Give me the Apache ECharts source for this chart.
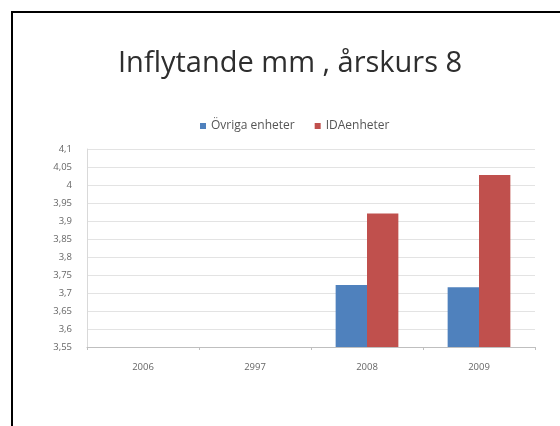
<!DOCTYPE html>
<html>
<head>
<meta charset="utf-8">
<script src="https://cdn.jsdelivr.net/npm/echarts@6/dist/echarts.min.js"></script>
<style>
  html, body { margin: 0; padding: 0; background: #fff; }
  #chart { width: 560px; height: 426px; }
</style>
</head>
<body>
<div id="chart"></div>
<script>
const years = ['2006', '2997', '2008', '2009'];
const ovrigaEnheter = [null, null, 3.722, 3.716];
const idaEnheter = [null, null, 3.921, 4.028];
const seriesNames = ['Övriga enheter', 'IDAenheter'];

var chartDom = document.getElementById('chart');
var myChart = echarts.init(chartDom);

// decimal comma like the original
function fmt(v) {
  return String(+v.toFixed(2)).replace('.', ',');
}

var option = {
  backgroundColor: '#fff',
  animation: false,
  title: {
    text: 'Inflytande mm , årskurs 8',
    left: 113,
    top: 44,
    textStyle: {
      fontFamily: 'Open Sans',
      fontSize: 29,
      fontWeight: 'normal',
      color: '#2e2e2e'
    }
  },
  legend: {
    top: 115,
    left: 195,
    icon: 'rect',
    itemWidth: 6,
    itemHeight: 6,
    itemGap: 20,
    textStyle: { fontSize: 12, color: '#555', fontFamily: 'Open Sans' },
    data: seriesNames
  },
  grid: {
    left: 87,
    right: 25,
    top: 149,
    bottom: 79
  },
  xAxis: {
    type: 'category',
    data: years,
    axisLine: { lineStyle: { color: '#bfbfbf' } },
    axisTick: { show: true, length: 3, lineStyle: { color: '#bfbfbf' } },
    axisLabel: { fontSize: 9.5, color: '#666', margin: 15, fontFamily: 'Open Sans' }
  },
  yAxis: {
    type: 'value',
    min: 3.55,
    max: 4.1,
    interval: 0.05,
    axisLine: { show: true, lineStyle: { color: '#d9d9d9' } },
    axisTick: { show: false },
    axisLabel: { fontSize: 9.5, color: '#666', margin: 15, formatter: fmt, fontFamily: 'Open Sans' },
    splitLine: { lineStyle: { color: '#e3e3e3' } }
  },
  series: [
    {
      name: seriesNames[0],
      type: 'bar',
      barGap: 0,
      barCategoryGap: '44%',
      itemStyle: { color: '#4F81BD' },
      data: ovrigaEnheter
    },
    {
      name: seriesNames[1],
      type: 'bar',
      barGap: 0,
      barCategoryGap: '44%',
      itemStyle: { color: '#C0504D' },
      data: idaEnheter
    }
  ],
  // slide frame (top and left edges)
  graphic: [
    { type: 'line', shape: { x1: 11, y1: 12, x2: 560, y2: 12 }, style: { stroke: '#000', lineWidth: 2 } },
    { type: 'line', shape: { x1: 12, y1: 11, x2: 12, y2: 426 }, style: { stroke: '#000', lineWidth: 2 } }
  ]
};

option && myChart.setOption(option);
</script>
</body>
</html>
